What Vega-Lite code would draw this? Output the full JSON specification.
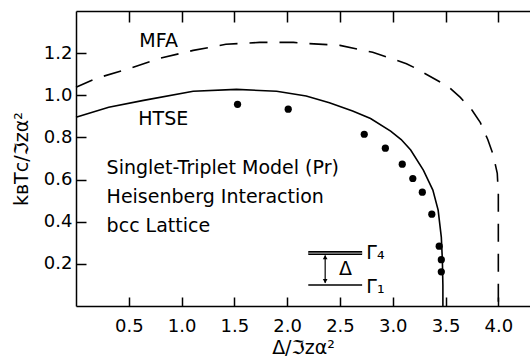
{
  "$schema": "https://vega.github.io/schema/vega-lite/v6.json",
  "width": 454,
  "height": 295,
  "autosize": {"type": "none"},
  "padding": {"left": 76, "top": 11, "right": 0, "bottom": 50},
  "background": "white",
  "config": {
    "view": {"stroke": null},
    "axis": {
      "grid": false,
      "domainColor": "black",
      "domainWidth": 1.5,
      "tickColor": "black",
      "tickWidth": 1.5,
      "labelColor": "black",
      "titleColor": "black",
      "labelFont": "DejaVu Sans",
      "titleFont": "DejaVu Sans",
      "labelFontSize": 18,
      "titleFontSize": 19,
      "titleFontWeight": "normal"
    },
    "text": {"font": "DejaVu Sans", "fontSize": 19, "color": "black"}
  },
  "datasets": {
    "mfa": [
      {"i": 0, "x": 0.0, "y": 1.038},
      {"i": 1, "x": 0.19, "y": 1.08},
      {"i": 2, "x": 0.48, "y": 1.123},
      {"i": 3, "x": 0.79, "y": 1.175},
      {"i": 4, "x": 1.11, "y": 1.213},
      {"i": 5, "x": 1.42, "y": 1.242},
      {"i": 6, "x": 1.74, "y": 1.251},
      {"i": 7, "x": 2.06, "y": 1.251},
      {"i": 8, "x": 2.19, "y": 1.246},
      {"i": 9, "x": 2.5, "y": 1.237},
      {"i": 10, "x": 2.81, "y": 1.204},
      {"i": 11, "x": 3.13, "y": 1.15},
      {"i": 12, "x": 3.21, "y": 1.13},
      {"i": 13, "x": 3.53, "y": 1.04},
      {"i": 14, "x": 3.64, "y": 0.99},
      {"i": 15, "x": 3.75, "y": 0.93},
      {"i": 16, "x": 3.83, "y": 0.87},
      {"i": 17, "x": 3.9, "y": 0.79},
      {"i": 18, "x": 3.95, "y": 0.72},
      {"i": 19, "x": 3.99, "y": 0.63},
      {"i": 20, "x": 4.0, "y": 0.53},
      {"i": 21, "x": 4.0, "y": 0.0}
    ],
    "htse": [
      {"i": 0, "x": 0.0, "y": 0.896},
      {"i": 1, "x": 0.31, "y": 0.943},
      {"i": 2, "x": 0.64, "y": 0.976},
      {"i": 3, "x": 1.11, "y": 1.019},
      {"i": 4, "x": 1.52, "y": 1.028},
      {"i": 5, "x": 1.9, "y": 1.019},
      {"i": 6, "x": 2.18, "y": 0.997},
      {"i": 7, "x": 2.4, "y": 0.965},
      {"i": 8, "x": 2.62, "y": 0.925},
      {"i": 9, "x": 2.79, "y": 0.89},
      {"i": 10, "x": 2.98, "y": 0.83},
      {"i": 11, "x": 3.08, "y": 0.79},
      {"i": 12, "x": 3.17, "y": 0.74},
      {"i": 13, "x": 3.29, "y": 0.645},
      {"i": 14, "x": 3.38, "y": 0.55},
      {"i": 15, "x": 3.43, "y": 0.455},
      {"i": 16, "x": 3.46, "y": 0.327},
      {"i": 17, "x": 3.47, "y": 0.218},
      {"i": 18, "x": 3.475, "y": 0.1},
      {"i": 19, "x": 3.475, "y": 0.0}
    ],
    "measured": [
      {"x": 1.53, "y": 0.957},
      {"x": 2.01, "y": 0.934},
      {"x": 2.73, "y": 0.815},
      {"x": 2.93, "y": 0.749},
      {"x": 3.09, "y": 0.673},
      {"x": 3.19, "y": 0.605},
      {"x": 3.28, "y": 0.54},
      {"x": 3.37, "y": 0.436},
      {"x": 3.44, "y": 0.284},
      {"x": 3.46, "y": 0.22},
      {"x": 3.46, "y": 0.162}
    ],
    "labels": [
      {"x": 0.6, "y": 1.227, "text": "MFA"},
      {"x": 0.59, "y": 0.858, "text": "HTSE"},
      {"x": 0.29, "y": 0.626, "text": "Singlet-Triplet Model (Pr)"},
      {"x": 0.29, "y": 0.488, "text": "Heisenberg Interaction"},
      {"x": 0.29, "y": 0.351, "text": "bcc Lattice"},
      {"x": 2.49, "y": 0.147, "text": "Δ"},
      {"x": 2.75, "y": 0.223, "text": "Γ₄"},
      {"x": 2.75, "y": 0.062, "text": "Γ₁"}
    ],
    "triplet": [{"x": 2.2, "x2": 2.71, "y": 0.251}],
    "singlet": [{"x": 2.2, "x2": 2.71, "y": 0.1}],
    "gap": [{"x": 2.36, "y": 0.24, "y2": 0.11}],
    "heads": [
      {"x": 2.36, "y": 0.232, "dir": "up"},
      {"x": 2.36, "y": 0.118, "dir": "down"}
    ]
  },
  "layer": [
    {
      "data": {"name": "mfa"},
      "mark": {"type": "line", "color": "black", "strokeWidth": 1.6, "strokeDash": [18, 12]},
      "encoding": {
        "x": {
          "field": "x", "type": "quantitative",
          "scale": {"domain": [0, 4.3], "nice": false},
          "axis": {
            "orient": "bottom",
            "values": [0.5, 1, 1.5, 2, 2.5, 3, 3.5, 4],
            "format": ".1f",
            "tickSize": -9,
            "labelPadding": 20,
            "title": "Δ/ℑzα²",
            "titlePadding": 3
          }
        },
        "y": {
          "field": "y", "type": "quantitative",
          "scale": {"domain": [0, 1.4], "nice": false},
          "axis": {
            "values": [0.2, 0.4, 0.6, 0.8, 1, 1.2],
            "format": ".1f",
            "tickSize": -10,
            "labelPadding": 14,
            "title": "kʙTᴄ/ℑzα²",
            "titlePadding": 12
          }
        },
        "order": {"field": "i"}
      }
    },
    {
      "data": {"name": "htse"},
      "mark": {"type": "line", "color": "black", "strokeWidth": 1.6},
      "encoding": {
        "x": {
          "field": "x", "type": "quantitative",
          "axis": {
            "orient": "top",
            "values": [0.5, 1, 1.5, 2, 2.5, 3, 3.5, 4],
            "labels": false,
            "tickSize": -11,
            "title": null
          }
        },
        "y": {"field": "y", "type": "quantitative"},
        "order": {"field": "i"}
      }
    },
    {
      "data": {"name": "measured"},
      "mark": {"type": "circle", "color": "black", "opacity": 1, "size": 52},
      "encoding": {
        "x": {"field": "x", "type": "quantitative", "axis": null},
        "y": {"field": "y", "type": "quantitative"}
      }
    },
    {
      "data": {"name": "triplet"},
      "mark": {"type": "rule", "color": "black", "strokeWidth": 4},
      "encoding": {
        "x": {"field": "x", "type": "quantitative", "axis": null},
        "x2": {"field": "x2"},
        "y": {"field": "y", "type": "quantitative"}
      }
    },
    {
      "data": {"name": "triplet"},
      "mark": {"type": "rule", "color": "#9a9a9a", "strokeWidth": 1.2},
      "encoding": {
        "x": {"field": "x", "type": "quantitative", "axis": null},
        "x2": {"field": "x2"},
        "y": {"field": "y", "type": "quantitative"}
      }
    },
    {
      "data": {"name": "singlet"},
      "mark": {"type": "rule", "color": "black", "strokeWidth": 1.5},
      "encoding": {
        "x": {"field": "x", "type": "quantitative", "axis": null},
        "x2": {"field": "x2"},
        "y": {"field": "y", "type": "quantitative"}
      }
    },
    {
      "data": {"name": "gap"},
      "mark": {"type": "rule", "color": "black", "strokeWidth": 1.2},
      "encoding": {
        "x": {"field": "x", "type": "quantitative", "axis": null},
        "y": {"field": "y", "type": "quantitative"},
        "y2": {"field": "y2"}
      }
    },
    {
      "data": {"name": "heads"},
      "mark": {"type": "point", "filled": true, "color": "black", "opacity": 1, "size": 22},
      "encoding": {
        "x": {"field": "x", "type": "quantitative", "axis": null},
        "y": {"field": "y", "type": "quantitative"},
        "shape": {
          "field": "dir", "type": "nominal", "legend": null,
          "scale": {"domain": ["up", "down"], "range": ["triangle-up", "triangle-down"]}
        }
      }
    },
    {
      "data": {"name": "labels"},
      "mark": {"type": "text", "align": "left", "baseline": "alphabetic"},
      "encoding": {
        "x": {"field": "x", "type": "quantitative", "axis": null},
        "y": {"field": "y", "type": "quantitative"},
        "text": {"field": "text"}
      }
    }
  ],
  "resolve": {"axis": {"x": "independent"}}
}
